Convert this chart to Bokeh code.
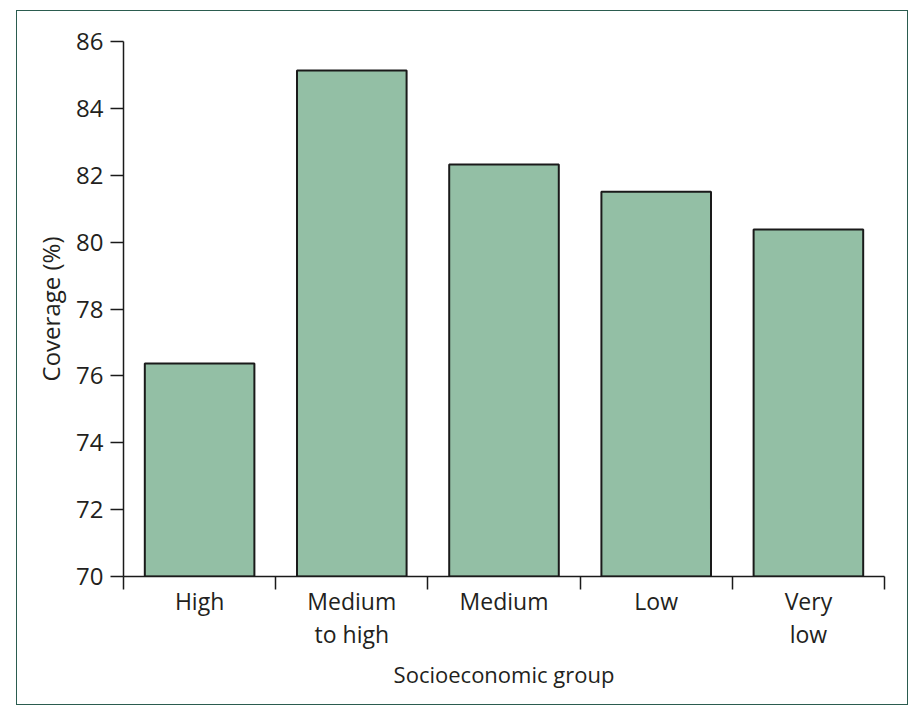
from bokeh.plotting import figure
from bokeh.models import Range1d, FixedTicker
from bokeh.embed import file_html
from bokeh.resources import INLINE

categories = ["High", "Medium\nto high", "Medium", "Low", "Very\nlow"]
coverage = [76.37, 85.13, 82.32, 81.51, 80.38]
y_ticks = [70, 72, 74, 76, 78, 80, 82, 84, 86]

FONT = "Open Sans"
TXT = "#231f20"

xs = [i + 0.5 for i in range(len(categories))]
bounds = list(range(len(categories) + 1))

p = figure(width=886, height=689, output_backend="svg", toolbar_location=None,
           x_range=Range1d(0, len(categories)), y_range=Range1d(70, 86),
           min_border_left=104, min_border_top=28, min_border_right=21,
           min_border_bottom=126)
p.styles = {"position": "relative", "left": "19px", "top": "13px",
            "outline": "1.5px solid #2b5c4f", "outline-offset": "2px"}
p.outline_line_color = None
p.grid.visible = False
p.background_fill_color = "white"
p.border_fill_color = "white"

p.vbar(x=xs, top=coverage, bottom=70, width=0.72,
       fill_color="#93bfa5", line_color="#1a1a1a", line_width=2)

xa = p.xaxis[0]
xa.ticker = FixedTicker(ticks=xs, minor_ticks=bounds)
xa.major_label_overrides = {x: c for x, c in zip(xs, categories)}
xa.major_tick_line_color = None
xa.major_tick_out = 0
xa.major_tick_in = 0
xa.minor_tick_line_color = "#1a1a1a"
xa.minor_tick_line_width = 1.5
xa.minor_tick_out = 13
xa.minor_tick_in = 0
xa.axis_line_width = 1.5
xa.axis_line_color = "#1a1a1a"
xa.major_label_text_font = FONT
xa.major_label_text_font_size = "23px"
xa.major_label_text_color = TXT
xa.major_label_text_line_height = 1.05
xa.major_label_standoff = -5
xa.axis_label = "Socioeconomic group"
xa.axis_label_text_font = FONT
xa.axis_label_text_font_size = "22px"
xa.axis_label_text_font_style = "normal"
xa.axis_label_text_color = TXT
xa.axis_label_standoff = 6

ya = p.yaxis[0]
ya.ticker = FixedTicker(ticks=y_ticks, minor_ticks=[])
ya.major_tick_out = 13
ya.major_tick_in = 0
ya.major_tick_line_width = 1.5
ya.major_tick_line_color = "#1a1a1a"
ya.axis_line_width = 1.5
ya.axis_line_color = "#1a1a1a"
ya.major_label_text_font = FONT
ya.major_label_text_font_size = "24px"
ya.major_label_text_color = TXT
ya.major_label_standoff = 7
ya.axis_label = "Coverage (%)"
ya.axis_label_text_font = FONT
ya.axis_label_text_font_size = "24px"
ya.axis_label_text_font_style = "normal"
ya.axis_label_text_color = TXT
ya.axis_label_standoff = 6

open("out.html", "w").write(file_html(p, INLINE))
